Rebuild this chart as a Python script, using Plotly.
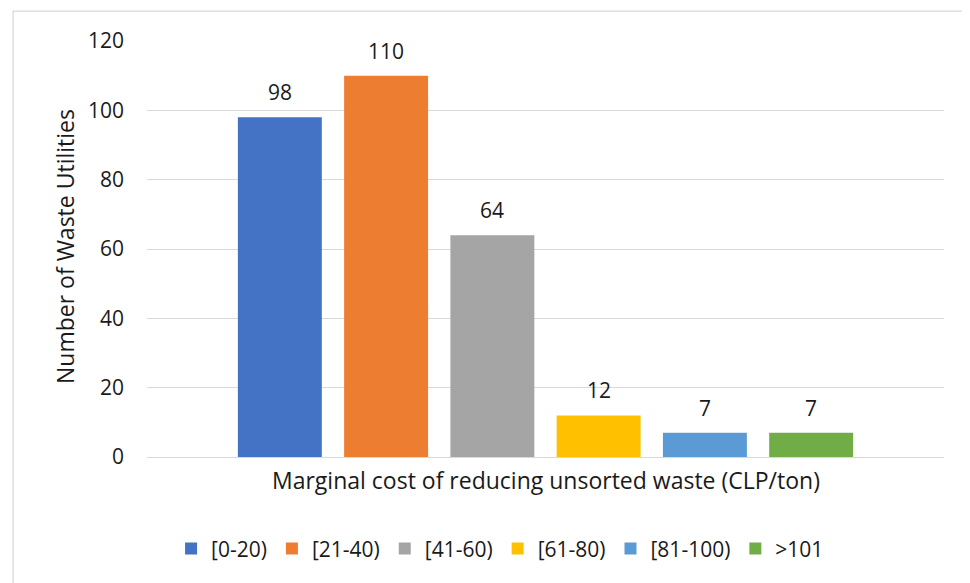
import plotly.graph_objects as go

series_names = ["[0-20)", "[21-40)", "[41-60)", "[61-80)", "[81-100)", ">101"]
series_values = [98, 110, 64, 12, 7, 7]
series_colors = ["#4472C4", "#ED7D31", "#A5A5A5", "#FFC000", "#5B9BD5", "#70AD47"]
category = [""]
y_ticks = [0, 20, 40, 60, 80, 100, 120]

FONT = "Open Sans"
FS = 22
TXT = "#1a1a1a"
BARGAP = 0.2

fig = go.Figure()
n = len(series_values)
slot = (1 - BARGAP) / n
annotations = []
for i, (name, val, col) in enumerate(zip(series_names, series_values, series_colors)):
    fig.add_trace(go.Bar(
        x=category, y=[val], name=name, marker=dict(color=col, line=dict(width=0)),
    ))
    annotations.append(dict(
        text=str(val), xref="paper", yref="y", x=0.5 + (i - (n - 1) / 2) * slot, y=val,
        xanchor="center", yanchor="bottom", yshift=9, showarrow=False,
        font=dict(family=FONT, size=FS - 1, color=TXT)))

annotations += [
    dict(text="Marginal cost of reducing unsorted waste (CLP/ton)", xref="paper", yref="paper",
         x=0.5, y=-0.055, xanchor="center", yanchor="middle", showarrow=False,
         font=dict(family=FONT, size=FS + 1, color=TXT)),
    dict(text="Number of Waste Utilities", xref="paper", yref="paper",
         x=-0.103, y=0.507, xanchor="center", yanchor="middle", showarrow=False,
         textangle=-90, font=dict(family=FONT, size=FS + 1, color=TXT)),
]

fig.update_layout(
    width=970, height=583,
    margin=dict(l=139, r=34, t=33, b=134),
    paper_bgcolor="white", plot_bgcolor="white",
    barmode="group", bargap=BARGAP, bargroupgap=0.21,
    font=dict(family=FONT, size=FS, color=TXT),
    showlegend=True,
    legend=dict(orientation="h", x=0.443, xanchor="center", y=-0.221, yanchor="middle",
                font=dict(family=FONT, size=FS - 1, color=TXT), itemwidth=30,
                traceorder="normal"),
    xaxis=dict(showticklabels=False, showgrid=False, showline=False, zeroline=False),
    yaxis=dict(range=[0, 120], tickvals=y_ticks, showgrid=True, gridcolor="#d9d9d9",
               gridwidth=1.3, zeroline=True, zerolinecolor="#d9d9d9", zerolinewidth=1.3,
               showline=False, ticklabelstandoff=22,
               tickfont=dict(family=FONT, size=FS - 1, color=TXT)),
    annotations=annotations,
    shapes=[dict(type="rect", xref="paper", yref="paper", x0=-0.168, x1=1.2, y0=-0.5, y1=1.072,
                 line=dict(color="#d9d9d9", width=1.3), fillcolor="rgba(0,0,0,0)", layer="below")],
)

fig.write_html("out.html")
